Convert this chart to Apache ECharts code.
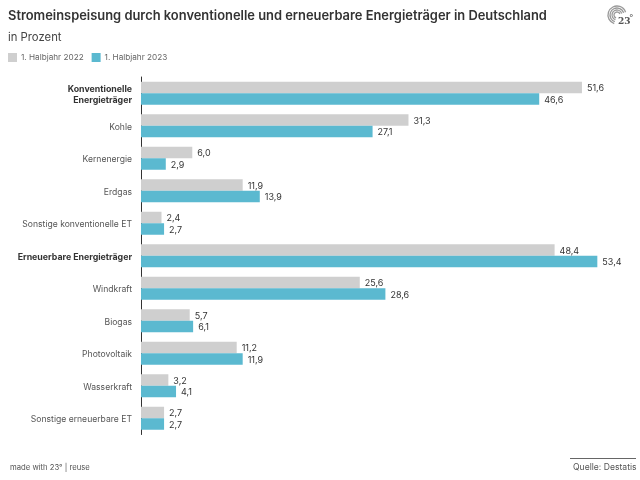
<!DOCTYPE html>
<html>
<head>
<meta charset="utf-8">
<script src="https://cdn.jsdelivr.net/npm/echarts@6/dist/echarts.min.js"></script>
<style>
  html, body { margin: 0; padding: 0; background: #fff; }
  #chart { width: 640px; height: 480px; }
</style>
</head>
<body>
<div id="chart"></div>
<script>
const categories = [
  'Konventionelle\nEnergieträger', 'Kohle', 'Kernenergie', 'Erdgas', 'Sonstige konventionelle ET',
  'Erneuerbare Energieträger', 'Windkraft', 'Biogas', 'Photovoltaik', 'Wasserkraft', 'Sonstige erneuerbare ET'
];
const boldCategories = ['Konventionelle\nEnergieträger', 'Erneuerbare Energieträger'];
const halfYear2022 = [51.6, 31.3, 6.0, 11.9, 2.4, 48.4, 25.6, 5.7, 11.2, 3.2, 2.7];
const halfYear2023 = [46.6, 27.1, 2.9, 13.9, 2.7, 53.4, 28.6, 6.1, 11.9, 4.1, 2.7];

const FONT = 'Inter, "Noto Sans", sans-serif';
const GREY = '#cfcfcf';
const BLUE = '#5bb9d0';

const chart = echarts.init(document.getElementById('chart'), null, { renderer: 'canvas' });

function formatValue(p) {
  return p.value.toFixed(1).replace('.', ',');
}

function makeSeries(name, data, color) {
  return {
    name: name,
    type: 'bar',
    data: data,
    barWidth: 11.5,
    barGap: 0,
    itemStyle: { color: color },
    label: {
      show: true,
      position: 'right',
      distance: 5,
      offset: [0, 1],
      formatter: formatValue,
      fontFamily: FONT,
      fontSize: 9,
      color: '#333'
    }
  };
}

// arcs of the 23° logo, top right
const logoArcs = [9, 7, 5, 3].map(function (r) {
  return {
    type: 'arc',
    shape: { cx: 617, cy: 15, r: r, startAngle: Math.PI * 0.6, endAngle: Math.PI * 1.9 },
    style: { stroke: '#999', lineWidth: 1.3, fill: null }
  };
});

chart.setOption({
  animation: false,
  textStyle: { fontFamily: FONT },
  title: [
    { text: 'Stromeinspeisung durch konventionelle und erneuerbare Energieträger in Deutschland',
      left: 8, top: 10, padding: 0, textStyle: { fontFamily: FONT, fontSize: 12.9, fontWeight: 600, color: '#333' } },
    { text: 'in Prozent', left: 8, top: 32, padding: 0,
      textStyle: { fontFamily: FONT, fontSize: 11.3, fontWeight: 400, color: '#444' } },
    { text: 'made with 23° | reuse', left: 10, top: 464, padding: 0,
      textStyle: { fontFamily: FONT, fontSize: 7.7, fontWeight: 400, color: '#555' } },
    { text: 'Quelle: Destatis', left: 573, top: 463, padding: 0,
      textStyle: { fontFamily: FONT, fontSize: 8.6, fontWeight: 400, color: '#555' } }
  ],
  legend: {
    left: 8,
    top: 53,
    itemWidth: 9,
    itemHeight: 9,
    itemGap: 8,
    padding: 0,
    icon: 'rect',
    textStyle: { fontFamily: FONT, fontSize: 8.2, color: '#666', padding: [0, 0, 0, -1] }
  },
  grid: { left: 141, top: 77, width: 470, height: 357.5 },
  xAxis: { type: 'value', min: 0, max: 55, show: false },
  yAxis: {
    type: 'category',
    inverse: true,
    data: categories,
    axisLine: { show: true, lineStyle: { color: '#333', width: 1 } },
    axisTick: { show: false },
    axisLabel: {
      margin: 9,
      padding: [3, 0, 0, 0],
      fontFamily: FONT,
      fontSize: 8.6,
      color: '#555',
      formatter: function (value) {
        if (boldCategories.indexOf(value) < 0) return value;
        return value.split('\n').map(function (s) { return '{b|' + s + '}'; }).join('\n');
      },
      rich: { b: { fontFamily: FONT, fontSize: 8.8, fontWeight: 700, color: '#333', lineHeight: 11, align: 'right' } }
    }
  },
  series: [
    makeSeries('1. Halbjahr 2022', halfYear2022, GREY),
    makeSeries('1. Halbjahr 2023', halfYear2023, BLUE)
  ],
  graphic: logoArcs.concat([
    { type: 'text', x: 618, y: 17, style: { text: '23', font: '600 9px "DejaVu Serif", serif', fill: '#555', backgroundColor: '#fff' } },
    { type: 'text', x: 629, y: 14, style: { text: '°', font: '400 9px "DejaVu Serif", serif', fill: '#555' } },
    { type: 'rect', shape: { x: 570, y: 458, width: 66, height: 1 }, style: { fill: '#666' } }
  ])
});
</script>
</body>
</html>
